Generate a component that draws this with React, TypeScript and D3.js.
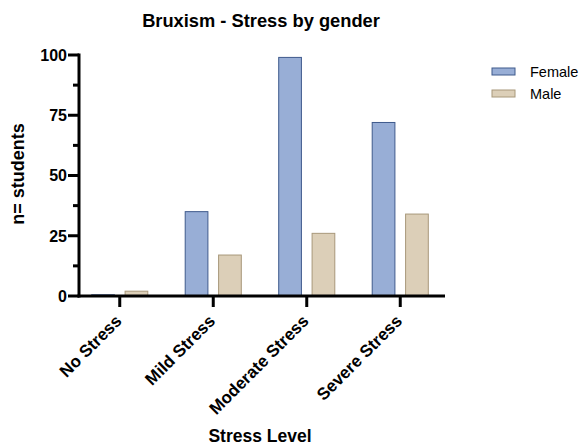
import { useEffect, useRef } from "react";
import * as d3 from "d3";

const width = 584;
const height = 446;
const margin = { top: 55, right: 141, bottom: 150, left: 79 };

const categories = ["No Stress", "Mild Stress", "Moderate Stress", "Severe Stress"];
const series = ["Female", "Male"];
const female = [0.5, 35, 99, 72];
const male = [2, 17, 26, 34];
const yTicks = [0, 25, 50, 75, 100];
const yMinorTicks = [12.5, 37.5, 62.5, 87.5];

const fills = ["#98aed6", "#dccfb8"];
const strokes = ["#3f5a8c", "#a8987a"];
const font = "'Liberation Sans', Arial, sans-serif";

const App = () => {
  const svgRef = useRef<SVGSVGElement>(null);

  useEffect(() => {
    const svg = d3.select(svgRef.current);
    svg.selectAll("*").remove();

    const x0 = margin.left;
    const x1 = width - margin.right;
    const yBase = height - margin.bottom;

    const xScale = d3
      .scaleBand<string>()
      .domain(categories)
      .range([x0 - 6, x1 + 4])
      .paddingInner(0)
      .paddingOuter(0);
    const xInner = d3
      .scaleBand<string>()
      .domain(series)
      .range([0, xScale.bandwidth()])
      .paddingInner(0.32)
      .paddingOuter(0.56);
    const yScale = d3
      .scaleLinear()
      .domain([0, 100])
      .range([yBase, margin.top]);

    const values = [female, male];

    // bars
    const g = svg.append("g");
    series.forEach((s, si) => {
      g.selectAll(`rect.s${si}`)
        .data(values[si])
        .join("rect")
        .attr("x", (_, i) => xScale(categories[i])! + xInner(s)!)
        .attr("y", (d) => yScale(d))
        .attr("width", xInner.bandwidth())
        .attr("height", (d) => yBase - yScale(d))
        .attr("fill", fills[si])
        .attr("stroke", strokes[si])
        .attr("stroke-width", 1);
    });

    // y-axis
    const yAxis = svg.append("g");
    yAxis
      .append("line")
      .attr("x1", x0)
      .attr("x2", x0)
      .attr("y1", yScale(100) - 1.5)
      .attr("y2", yBase + 1.5)
      .attr("stroke", "#000")
      .attr("stroke-width", 3);
    yAxis
      .selectAll("line.major")
      .data(yTicks)
      .join("line")
      .attr("class", "major")
      .attr("x1", x0 - 11)
      .attr("x2", x0)
      .attr("y1", (d) => yScale(d))
      .attr("y2", (d) => yScale(d))
      .attr("stroke", "#000")
      .attr("stroke-width", 3);
    yAxis
      .selectAll("line.minor")
      .data(yMinorTicks)
      .join("line")
      .attr("class", "minor")
      .attr("x1", x0 - 6)
      .attr("x2", x0)
      .attr("y1", (d) => yScale(d))
      .attr("y2", (d) => yScale(d))
      .attr("stroke", "#000")
      .attr("stroke-width", 3);
    yAxis
      .selectAll("text")
      .data(yTicks)
      .join("text")
      .attr("x", x0 - 12)
      .attr("y", (d) => yScale(d))
      .attr("dy", "0.36em")
      .attr("text-anchor", "end")
      .attr("font-family", font)
      .attr("font-weight", "bold")
      .attr("font-size", 16)
      .text((d) => d);

    // x-axis
    const xAxis = svg.append("g");
    xAxis
      .append("line")
      .attr("x1", x0 - 1.5)
      .attr("x2", x1 + 2)
      .attr("y1", yBase)
      .attr("y2", yBase)
      .attr("stroke", "#000")
      .attr("stroke-width", 3);
    xAxis
      .selectAll("line.tick")
      .data(categories)
      .join("line")
      .attr("class", "tick")
      .attr("x1", (d) => xScale(d)! + xScale.bandwidth() / 2)
      .attr("x2", (d) => xScale(d)! + xScale.bandwidth() / 2)
      .attr("y1", yBase)
      .attr("y2", yBase + 11)
      .attr("stroke", "#000")
      .attr("stroke-width", 3);
    xAxis
      .selectAll("text")
      .data(categories)
      .join("text")
      .attr(
        "transform",
        (d) => `translate(${xScale(d)! + xScale.bandwidth() / 2 + 3},${yBase + 26}) rotate(-45)`
      )
      .attr("text-anchor", "end")
      .attr("font-family", font)
      .attr("font-weight", "bold")
      .attr("font-size", 17)
      .text((d) => d);

    // titles
    svg
      .append("text")
      .attr("x", 261)
      .attr("y", 27)
      .attr("text-anchor", "middle")
      .attr("font-family", font)
      .attr("font-weight", "bold")
      .attr("font-size", 18.3)
      .text("Bruxism - Stress by gender");
    svg
      .append("text")
      .attr("transform", `translate(24,174) rotate(-90)`)
      .attr("text-anchor", "middle")
      .attr("font-family", font)
      .attr("font-weight", "bold")
      .attr("font-size", 18)
      .text("n= students");
    svg
      .append("text")
      .attr("x", 260)
      .attr("y", 442)
      .attr("text-anchor", "middle")
      .attr("font-family", font)
      .attr("font-weight", "bold")
      .attr("font-size", 17.5)
      .text("Stress Level");

    // legend
    const legend = svg
      .append("g")
      .selectAll("g")
      .data(series)
      .join("g")
      .attr("transform", (_, i) => `translate(492,${68 + i * 22})`);
    legend
      .append("rect")
      .attr("width", 23)
      .attr("height", 7)
      .attr("fill", (_, i) => fills[i])
      .attr("stroke", (_, i) => strokes[i]);
    legend
      .append("text")
      .attr("x", 38)
      .attr("y", 3.5)
      .attr("dy", "0.36em")
      .attr("font-family", font)
      .attr("font-size", 14.5)
      .text((d) => d);
  }, []);

  return (
    <svg
      ref={svgRef}
      width={width}
      height={height}
      style={{ position: "absolute", left: 0, top: 0, background: "#fff" }}
    ></svg>
  );
};

export default App;
